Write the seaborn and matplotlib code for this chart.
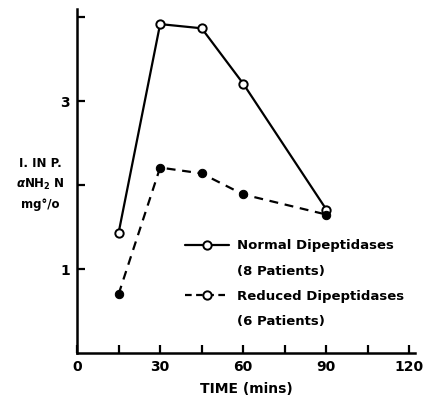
import matplotlib
matplotlib.use("Agg")
import matplotlib.pyplot as plt
from matplotlib.lines import Line2D
import numpy as np
import pandas as pd
import seaborn as sns

time_mins = [15, 30, 45, 60, 90]
normal_vals = [1.43, 3.92, 3.87, 3.21, 1.71]
reduced_vals = [0.70, 2.21, 2.14, 1.89, 1.65]
x_ticks = [0, 15, 30, 45, 60, 75, 90, 105, 120]
x_labels = ["0", "", "30", "", "60", "", "90", "", "120"]
y_ticks = [1, 2, 3, 4]
y_labels = ["1", "", "3", ""]
legend_labels = ["Normal Dipeptidases", "(8 Patients)", "Reduced Dipeptidases", "(6 Patients)"]

sns.set_style("white")
plt.rcParams["font.family"] = ["DejaVu Sans"]
plt.rcParams["font.weight"] = "bold"
plt.rcParams["text.color"] = "black"
plt.rcParams["xtick.color"] = "black"
plt.rcParams["ytick.color"] = "black"
plt.rcParams["axes.labelcolor"] = "black"

df = pd.DataFrame({
    "time": time_mins * 2,
    "value": normal_vals + reduced_vals,
    "group": ["Normal"] * 5 + ["Reduced"] * 5,
})

fig = plt.figure(figsize=(4.26, 3.99), dpi=100)
ax = fig.add_axes([77 / 426, 46 / 399, 338 / 426, 344 / 399])

sns.lineplot(data=df[df.group == "Normal"], x="time", y="value", ax=ax,
             color="black", lw=1.6, marker="o", markersize=6,
             markerfacecolor="white", markeredgecolor="black", markeredgewidth=1.4)
sns.lineplot(data=df[df.group == "Reduced"], x="time", y="value", ax=ax,
             color="black", lw=1.6, marker="o", markersize=6,
             markerfacecolor="black", markeredgecolor="black")
ax.lines[1].set_linestyle((0, (4, 3)))

ax.set_xlim(0, 122)
ax.set_ylim(0, 4.1)
ax.set_xticks(x_ticks)
ax.set_xticklabels(x_labels)
ax.set_yticks(y_ticks)
ax.set_yticklabels(y_labels)
ax.tick_params(direction="in", length=6, width=1.6, labelsize=10, pad=5,
               bottom=True, left=True)
for s in ["top", "right"]:
    ax.spines[s].set_visible(False)
for s in ["left", "bottom"]:
    ax.spines[s].set_linewidth(1.8)
    ax.spines[s].set_color("black")

ax.set_xlabel("TIME (mins)", fontsize=10, fontweight="bold", labelpad=6)
ax.set_ylabel("")
fig.text(40 / 426, 1 - 184 / 399, "I. IN P.\n" + r"$\alpha$NH$_2$ N" + "\nmg°/o",
         ha="center", va="center", fontsize=8.5, fontweight="bold", linespacing=1.6)

blank = Line2D([], [], color="none")
handles = [
    Line2D([], [], color="black", lw=1.6, marker="o", markersize=6,
           markerfacecolor="white", markeredgewidth=1.4),
    blank,
    Line2D([], [], color="black", lw=1.6, marker="o", markersize=6, linestyle=(0, (3, 2)),
           markerfacecolor="white", markeredgewidth=1.4),
    blank,
]
ax.legend(handles, legend_labels,
          loc="upper left", bbox_to_anchor=(0.285, 0.365), frameon=False,
          handlelength=3.3, handletextpad=0.6, labelspacing=0.93,
          prop={"weight": "bold", "size": 9.5})

fig.savefig("out.png", dpi=100)
